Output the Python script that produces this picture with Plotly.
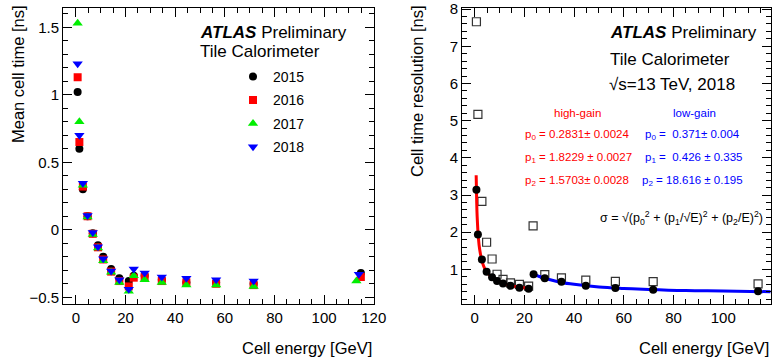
import plotly.graph_objects as go

# ---------------- Left panel data: mean cell time ----------------
energy_bins = [0.7, 1.4, 2.8, 4.7, 6.8, 8.9, 11.0, 14.2, 17.5, 21.3, 23.3, 27.7, 34.6, 44.5, 56.5, 71.6, 114.8]
energy_2017 = [0.7, 1.4, 2.8, 4.7, 6.8, 8.9, 11.0, 14.2, 17.5, 21.3, 23.3, 27.7, 34.6, 44.5, 56.5, 71.6, 113.0]
energy_2018 = [0.7, 1.4, 2.8, 4.7, 6.8, 8.9, 11.0, 14.2, 17.5, 21.3, 23.3, 27.7, 34.6, 44.5, 56.5, 71.6, 114.0]
time_2015 = [1.02, 0.60, 0.30, 0.10, -0.025, -0.115, -0.20, -0.29, -0.36, -0.38, -0.34, -0.34, -0.37, -0.39, -0.39, -0.40, -0.32]
time_2016 = [1.13, 0.65, 0.32, 0.10, -0.03, -0.13, -0.22, -0.31, -0.38, -0.42, -0.355, -0.35, -0.38, -0.39, -0.40, -0.41, -0.35]
time_2017 = [1.53, 0.80, 0.33, 0.095, -0.035, -0.135, -0.23, -0.315, -0.39, -0.455, -0.34, -0.37, -0.39, -0.41, -0.41, -0.42, -0.38]
time_2018 = [1.23, 0.70, 0.345, 0.105, -0.02, -0.125, -0.215, -0.305, -0.37, -0.44, -0.29, -0.32, -0.35, -0.36, -0.37, -0.38, -0.33]
years = ["2015", "2016", "2017", "2018"]

# ---------------- Right panel data: cell time resolution ----------------
res_energy_hg = [0.7, 1.3, 2.9, 4.8, 7.0, 9.0, 11.4, 14.4, 18.0, 21.7]
res_hg = [3.14, 1.94, 1.27, 0.94, 0.79, 0.69, 0.62, 0.56, 0.51, 0.48]
res_energy_lg = [23.7, 28.2, 34.9, 44.7, 56.6, 71.8, 114.0]
res_lg = [0.87, 0.76, 0.67, 0.56, 0.50, 0.45, 0.41]
open_energy = [0.7, 1.3, 2.9, 4.8, 7.0, 9.0, 11.4, 14.4, 18.0, 21.7, 23.5, 28.2, 34.9, 44.7, 56.6, 71.8, 114.0]
open_res = [7.66, 5.17, 2.83, 1.73, 1.28, 0.87, 0.73, 0.64, 0.60, 0.55, 2.17, 0.86, 0.77, 0.71, 0.68, 0.67, 0.61]
# fit curves
fit_hg_e = [0.6, 0.8, 1.0, 1.5, 2.0, 3.0, 4.0, 5.0, 7.0, 10.0, 14.0, 18.0, 22.0]
fit_hg_s = [3.53, 2.84, 2.42, 1.84, 1.54, 1.21, 1.03, 0.92, 0.78, 0.66, 0.57, 0.52, 0.49]
fit_lg_e = [23.5, 26.0, 30.0, 35.0, 40.0, 50.0, 60.0, 70.0, 85.0, 100.0, 119.0]
fit_lg_s = [0.88, 0.81, 0.73, 0.65, 0.60, 0.53, 0.49, 0.46, 0.43, 0.42, 0.40]

FONT = "Liberation Sans, Arial, Helvetica, sans-serif"
W, H = 774, 361

fig = go.Figure()

styles = [
    ("circle", "#000000", 8),
    ("square", "#ff0000", 8),
    ("triangle-up", "#00ee00", 9),
    ("triangle-down", "#0000ff", 9),
]
xs = [energy_bins, energy_bins, energy_2017, energy_2018]
ys = [time_2015, time_2016, time_2017, time_2018]
for i, (yr, (sym, col, sz)) in enumerate(zip(years, styles)):
    fig.add_trace(go.Scatter(
        x=xs[i], y=ys[i], mode="markers", name=yr, legendgroup=yr,
        marker=dict(symbol=sym, color=col, size=sz, line=dict(width=0)),
        xaxis="x", yaxis="y"))

# right panel
fig.add_trace(go.Scatter(x=open_energy, y=open_res, mode="markers", showlegend=False,
                         marker=dict(symbol="square-open", color="#333333", size=8, line=dict(width=1.2)),
                         xaxis="x2", yaxis="y2"))
fig.add_trace(go.Scatter(x=fit_hg_e, y=fit_hg_s, mode="lines", line=dict(color="#ff0000", width=3, shape="spline"),
                         showlegend=False, xaxis="x2", yaxis="y2"))
fig.add_trace(go.Scatter(x=fit_lg_e, y=fit_lg_s, mode="lines", line=dict(color="#0000ff", width=3, shape="spline"),
                         showlegend=False, xaxis="x2", yaxis="y2"))
fig.add_trace(go.Scatter(x=res_energy_hg, y=res_hg, mode="markers", showlegend=False,
                         marker=dict(symbol="circle", color="#000000", size=8),
                         xaxis="x2", yaxis="y2"))
fig.add_trace(go.Scatter(x=res_energy_lg, y=res_lg, mode="markers", showlegend=False,
                         marker=dict(symbol="circle", color="#000000", size=8),
                         xaxis="x2", yaxis="y2"))

ydom = [(H - 304) / H, (H - 8) / H]

def axis_common(dtick, minor_dtick, rng, domain, anchor):
    return dict(
        range=rng, domain=domain, anchor=anchor, dtick=dtick, tick0=0,
        showline=True, linecolor="black", linewidth=1, mirror="allticks",
        ticks="inside", ticklen=9, tickcolor="black", tickwidth=1,
        showgrid=False, zeroline=False, automargin=False,
        tickfont=dict(family=FONT, size=15, color="black"),
        minor=dict(dtick=minor_dtick, tick0=0, ticks="inside", ticklen=5, tickcolor="black", tickwidth=1, showgrid=False),
    )

fig.update_layout(
    width=W, height=H, autosize=False,
    margin=dict(l=0, r=0, t=0, b=0, pad=0, autoexpand=False),
    paper_bgcolor="white", plot_bgcolor="white",
    font=dict(family=FONT, color="black"),
    xaxis=axis_common(20, 5, [-5.2, 120.1], [63 / W, 374 / W], "y"),
    yaxis=axis_common(0.5, 0.1, [-0.55, 1.643], ydom, "x"),
    xaxis2=axis_common(20, 5, [-5.1, 119.2], [462 / W, 771 / W], "y2"),
    yaxis2=axis_common(1, 0.2, [0.07, 8.03], ydom, "x2"),
    legend=dict(x=233 / W, y=1 - 61 / H, xanchor="left", yanchor="top",
                font=dict(family=FONT, size=14, color="black"),
                bgcolor="rgba(0,0,0,0)", itemwidth=30, tracegroupgap=2.2,
                traceorder="grouped"),
    showlegend=True,
)
fig.layout.yaxis.tickvals = [-0.5, 0, 0.5, 1, 1.5]
fig.layout.yaxis.ticktext = ["\u22120.5", "0", "0.5", "1", "1.5"]

ann = []

def txt(x, y, s, size, color="black", xanchor="left", yanchor="middle", angle=0):
    ann.append(dict(x=x / W, y=1 - y / H, xref="paper", yref="paper", text=s, showarrow=False,
                    xanchor=xanchor, yanchor=yanchor, textangle=angle,
                    font=dict(family=FONT, size=size, color=color)))

# axis titles
txt(374, 348, "Cell energy [GeV]", 16.5, xanchor="right")
txt(771, 348, "Cell energy [GeV]", 16.5, xanchor="right")
txt(18, 3, "Mean cell time [ns]", 16.5, xanchor="center", yanchor="top", angle=-90)
txt(417, 3, "Cell time resolution [ns]", 16.5, xanchor="center", yanchor="top", angle=-90)

# left labels
txt(198, 32, "<b><i>ATLAS</i></b> Preliminary", 17)
txt(198, 52, "Tile Calorimeter", 17)
# right labels
txt(608, 32, "<b><i>ATLAS</i></b> Preliminary", 17)
txt(608, 59, "Tile Calorimeter", 17)
txt(607, 85, "\u221As=13 TeV, 2018", 17)

red = "#ff0000"
blue = "#0000ff"
txt(577, 113, "high-gain", 11.5, red, xanchor="center")
txt(694, 113, "low-gain", 11.5, blue, xanchor="center")
txt(523, 135, "p<sub>0</sub> = 0.2831\u00b1 0.0024", 11.5, red)
txt(523, 158, "p<sub>1</sub> = 1.8229 \u00b1 0.0027", 11.5, red)
txt(523, 181, "p<sub>2</sub> = 1.5703\u00b1 0.0028", 11.5, red)
txt(643, 135, "p<sub>0</sub> =  0.371\u00b1 0.004", 11.5, blue)
txt(643, 158, "p<sub>1</sub> =  0.426 \u00b1 0.335", 11.5, blue)
txt(640, 181, "p<sub>2</sub> = 18.616 \u00b1 0.195", 11.5, blue)
txt(598, 218, "\u03c3 = \u221A(p<sub>0</sub><sup>2</sup> + (p<sub>1</sub>/\u221AE)<sup>2</sup> + (p<sub>2</sub>/E)<sup>2</sup>)", 12.5)

fig.update_layout(annotations=ann)
fig.write_html("out.html", config=dict(displayModeBar=False, responsive=False),
               post_script="document.body.style.margin='0';document.body.style.padding='0';document.body.style.overflow='hidden';document.documentElement.style.overflow='hidden';")
